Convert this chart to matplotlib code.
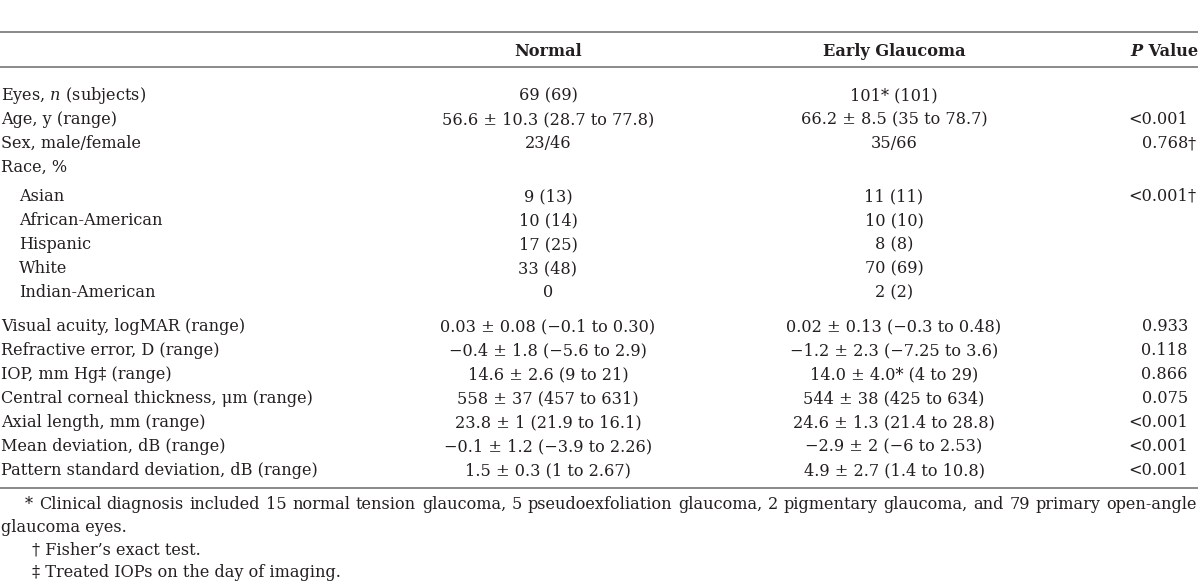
import matplotlib
matplotlib.use("Agg")
import matplotlib.pyplot as plt

# table content
headers = ["Normal", "Early Glaucoma"]
labels = ["Eyes, n (subjects)", "Age, y (range)", "Sex, male/female", "Race, %",
          "Asian", "African-American", "Hispanic", "White", "Indian-American",
          "Visual acuity, logMAR (range)", "Refractive error, D (range)",
          "IOP, mm Hg\u2021 (range)", "Central corneal thickness, \u03bcm (range)",
          "Axial length, mm (range)", "Mean deviation, dB (range)",
          "Pattern standard deviation, dB (range)"]
indent = [0, 0, 0, 0, 1, 1, 1, 1, 1, 0, 0, 0, 0, 0, 0, 0]
normal = ["69 (69)", "56.6 \u00b1 10.3 (28.7 to 77.8)", "23/46", "",
          "9 (13)", "10 (14)", "17 (25)", "33 (48)", "0",
          "0.03 \u00b1 0.08 (\u22120.1 to 0.30)", "\u22120.4 \u00b1 1.8 (\u22125.6 to 2.9)",
          "14.6 \u00b1 2.6 (9 to 21)", "558 \u00b1 37 (457 to 631)",
          "23.8 \u00b1 1 (21.9 to 16.1)", "\u22120.1 \u00b1 1.2 (\u22123.9 to 2.26)",
          "1.5 \u00b1 0.3 (1 to 2.67)"]
glaucoma = ["101* (101)", "66.2 \u00b1 8.5 (35 to 78.7)", "35/66", "",
            "11 (11)", "10 (10)", "8 (8)", "70 (69)", "2 (2)",
            "0.02 \u00b1 0.13 (\u22120.3 to 0.48)", "\u22121.2 \u00b1 2.3 (\u22127.25 to 3.6)",
            "14.0 \u00b1 4.0* (4 to 29)", "544 \u00b1 38 (425 to 634)",
            "24.6 \u00b1 1.3 (21.4 to 28.8)", "\u22122.9 \u00b1 2 (\u22126 to 2.53)",
            "4.9 \u00b1 2.7 (1.4 to 10.8)"]
pvals = ["", "<0.001", "0.768", "", "<0.001", "", "", "", "",
         "0.933", "0.118", "0.866", "0.075", "<0.001", "<0.001", "<0.001"]
pmarks = ["", "", "\u2020", "", "\u2020", "", "", "", "", "", "", "", "", "", "", ""]
footnotes = ["* Clinical diagnosis included 15 normal tension glaucoma, 5 pseudoexfoliation glaucoma, 2 pigmentary glaucoma, and 79 primary open-angle",
             "glaucoma eyes.",
             "\u2020 Fisher\u2019s exact test.",
             "\u2021 Treated IOPs on the day of imaging."]

plt.rcParams['font.family'] = ['DejaVu Serif']
plt.rcParams['mathtext.fontset'] = 'dejavuserif'
FS = 11.6
TC = '#231f20'
LC = '#8a8a8a'

fig = plt.figure(figsize=(12, 5.86), dpi=100)
ax = fig.add_axes([0, 0, 1, 1])
ax.set_xlim(0, 1200)
ax.set_ylim(586, 0)
ax.axis('off')

x_lab, x_ind, x_n, x_g, x_p = 1, 19, 548, 894, 1188


def width(t):
    fig.canvas.draw()
    bb = t.get_window_extent().transformed(ax.transData.inverted())
    return abs(bb.x1 - bb.x0)


# rules
for yy in [32, 67, 488]:
    ax.plot([0, 1198], [yy, yy], color=LC, lw=1.4, solid_capstyle='butt')

# header
ax.text(x_n, 56, headers[0], ha='center', va='baseline', fontsize=FS, fontweight='bold', color=TC)
ax.text(x_g, 56, headers[1], ha='center', va='baseline', fontsize=FS, fontweight='bold', color=TC)
tv = ax.text(1198, 56, " Value", ha='right', va='baseline', fontsize=FS, fontweight='bold', color=TC)
ax.text(1198 - width(tv), 56, "P", ha='right', va='baseline', fontsize=FS, fontweight='bold',
        style='italic', color=TC)

# row baselines
y = 100
for i, lab in enumerate(labels):
    if i == 4:
        y += 5
    if i == 9:
        y += 10
    xl = x_ind if indent[i] else x_lab
    if i == 0:
        lab = r"Eyes, $\mathit{n}$ (subjects)"
    ax.text(xl, y, lab, ha='left', va='baseline', fontsize=FS, color=TC)
    ax.text(x_n, y, normal[i], ha='center', va='baseline', fontsize=FS, color=TC)
    ax.text(x_g, y, glaucoma[i], ha='center', va='baseline', fontsize=FS, color=TC)
    ax.text(x_p, y, pvals[i], ha='right', va='baseline', fontsize=FS, color=TC)
    if pmarks[i]:
        ax.text(x_p, y, pmarks[i], ha='left', va='baseline', fontsize=FS, color=TC)
    y += 24

# footnotes, first line justified to the rule width
words = footnotes[0].split(" ")
tw = [ax.text(0, 509, w, ha='left', va='baseline', fontsize=FS, color=TC) for w in words]
fig.canvas.draw()
ws = [width(t) for t in tw]
x0, x1 = 25, 1197
gap = (x1 - x0 - sum(ws)) / (len(words) - 1)
xx = x0
for t, w in zip(tw, ws):
    t.set_x(xx)
    xx += w + gap
ax.text(1, 532, footnotes[1], ha='left', va='baseline', fontsize=FS, color=TC)
ax.text(32, 554, footnotes[2], ha='left', va='baseline', fontsize=FS, color=TC)
ax.text(32, 577, footnotes[3], ha='left', va='baseline', fontsize=FS, color=TC)

fig.savefig("out.png", dpi=100)
